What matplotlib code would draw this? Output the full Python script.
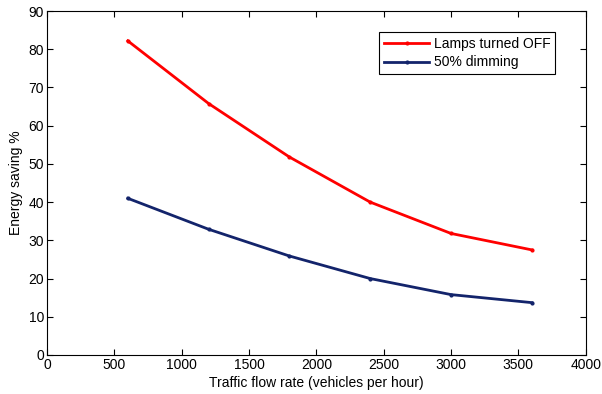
import matplotlib
matplotlib.use("Agg")
import matplotlib.pyplot as plt

plt.rcParams['font.family'] = ['Liberation Sans', 'DejaVu Sans']

flow = [600, 1200, 1800, 2400, 3000, 3600]
lamps_off = [82.2, 65.8, 51.8, 40.0, 31.8, 27.5]
dimming = [41.0, 32.9, 25.9, 20.0, 15.8, 13.7]

fig = plt.figure(figsize=(6.02, 3.94), dpi=100)
ax = fig.add_axes([0.078, 0.099, 0.895, 0.873])

ax.plot(flow, lamps_off, color='#ff0000', lw=2, marker='.', ms=4, label='Lamps turned OFF')
ax.plot(flow, dimming, color='#13246b', lw=2, marker='.', ms=4, label='50% dimming')

ax.set_xlim(0, 4000)
ax.set_ylim(0, 90)
ax.set_xticks(range(0, 4001, 500))
ax.set_yticks(range(0, 91, 10))
ax.tick_params(direction='in', top=True, right=True, labelsize=10, length=4, width=0.8, pad=2)
for s in ax.spines.values():
    s.set_linewidth(0.8)

ax.set_xlabel('Traffic flow rate (vehicles per hour)', fontsize=10, labelpad=3)
ax.set_ylabel('Energy saving %', fontsize=10, labelpad=4)

leg = ax.legend(loc='upper left', bbox_to_anchor=(0.603, 0.96), fontsize=10,
                fancybox=False, edgecolor='black', framealpha=1,
                handlelength=3.3, borderpad=0.35, labelspacing=0.35, handletextpad=0.3)
leg.get_frame().set_linewidth(0.8)

fig.savefig('out.png', dpi=100)
